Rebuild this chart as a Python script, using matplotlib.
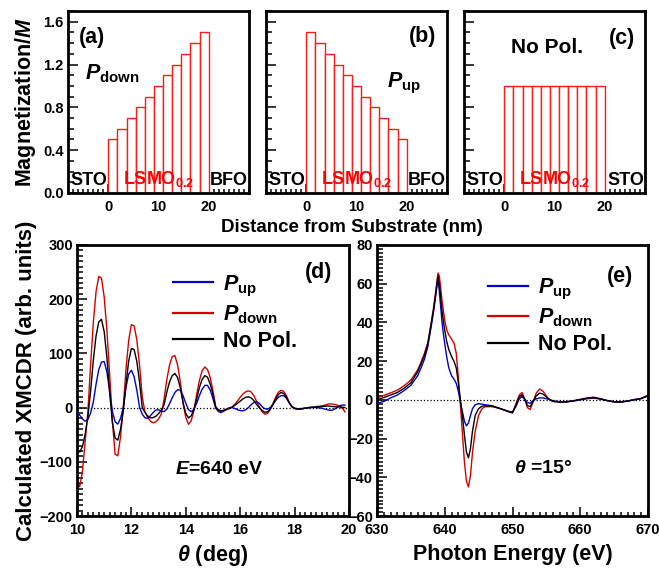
import matplotlib
matplotlib.use('Agg')
import matplotlib.pyplot as plt
from matplotlib.ticker import MultipleLocator
import numpy as np

plt.rcParams['font.family'] = ['Liberation Sans', 'DejaVu Sans']
plt.rcParams['font.weight'] = 'bold'
plt.rcParams['mathtext.fontset'] = 'custom'
plt.rcParams['mathtext.rm'] = 'Liberation Sans:bold'
plt.rcParams['mathtext.it'] = 'Liberation Sans:italic:bold'
plt.rcParams['mathtext.bf'] = 'Liberation Sans:bold'

# ---------------- data: magnetization profiles ----------------
film_thickness = 20.0   # nm
mag_down = [0.5, 0.6, 0.7, 0.8, 0.9, 1.0, 1.1, 1.2, 1.3, 1.4, 1.5]
mag_up = [1.5, 1.4, 1.3, 1.2, 1.1, 1.0, 0.9, 0.8, 0.7, 0.6, 0.5]
mag_nopol = [1.0, 1.0, 1.0, 1.0, 1.0, 1.0, 1.0, 1.0, 1.0, 1.0, 1.0]

# ---------------- data: XMCDR vs theta (E = 640 eV) ----------------
theta = [10.0, 10.1, 10.2, 10.3, 10.4, 10.5, 10.6, 10.7, 10.8, 10.9,
         11.0, 11.1, 11.2, 11.3, 11.4, 11.5, 11.6, 11.7, 11.8, 11.9,
         12.0, 12.1, 12.2, 12.3, 12.4, 12.5, 12.6, 12.7, 12.8, 12.9,
         13.0, 13.1, 13.2, 13.3, 13.4, 13.5, 13.6, 13.7, 13.8, 13.9,
         14.0, 14.1, 14.2, 14.3, 14.4, 14.5, 14.6, 14.7, 14.8, 14.9,
         15.0, 15.1, 15.2, 15.3, 15.4, 15.5, 15.6, 15.7, 15.8, 15.9,
         16.0, 16.1, 16.2, 16.3, 16.4, 16.5, 16.6, 16.7, 16.8, 16.9,
         17.0, 17.1, 17.2, 17.3, 17.4, 17.5, 17.6, 17.7, 17.8, 17.9,
         18.0, 18.1, 18.2, 18.3, 18.4, 18.5, 18.6, 18.7, 18.8, 18.9,
         19.0, 19.1, 19.2, 19.3, 19.4, 19.5, 19.6, 19.7, 19.8, 19.85]
theta_down = [-135, -146, -118, -62, -8, 79, 157, 214, 242, 239,
              204, 142, 62, -24, -86, -89, -54, 0, 70, 124,
              153, 151, 125, 78, 19, -8, -18, -25, -28, -26,
              -21, -12, 15, 51, 78, 94, 96, 78, 47, 8,
              -18, -31, -24, -5, 24, 50, 68, 75, 70, 55,
              31, 2, -5, -7, -6, -4, -2, 1, 6, 12,
              19, 25, 29, 31, 29, 22, 12, 1, -7, -12,
              -11, -4, 7, 19, 28, 32, 30, 22, 10, 1,
              -2, -3, -3, -2, -1, 0, 0.5, 1, 2, 2.5,
              3, 4.5, 6, 7, 6.5, 5.5, 4, 1, -4, -8]
theta_nopol = [-78, -82, -72, -49, -17, 30, 87, 132, 158, 163,
               140, 92, 28, -27, -56, -60, -40, -7, 42, 86,
               109, 107, 85, 47, 0, -9, -15.5, -19, -18.4, -16,
               -11, -5, 5, 28, 47, 59, 63, 55, 36, 9,
               -11, -19, -15, -4, 16, 37, 52, 59, 56, 43,
               24, 0, -4, -6, -5, -3, -1, 1, 4, 8,
               12, 16, 19, 20, 18, 13, 6, 0, -5, -8.5,
               -8, -3, 5, 15, 24, 28, 26, 19, 9, 2,
               -1, -2, -2, -1.5, -1, -0.5, 0, 0.5, 1, 1.5,
               2, 2.5, 3, 2.5, 2, 1.5, 1.5, 1, 0.5, 0]
theta_up = [-9, -14, -21, -25, -22, -10, 10, 43, 70, 84,
            85, 66, 30, -7, -26, -30.5, -20, 0, 37, 62,
            69, 57, 32, 0, -12, -19, -19.5, -15, -9, -4.5,
            -4, -6, -7.5, -3, 7, 18, 28, 33, 32, 22,
            8, -4, -7.5, -3, 8, 22, 34, 41, 41, 32,
            16, -1, -7.5, -9, -6, -2.5, -0.5, 0, -1.5, -4,
            -5.5, -6, -4, 0, 5, 9.5, 11, 8, 2, -2,
            -3, 0, 6, 13, 19, 22, 22, 17, 9, 2,
            -1.5, -3, -3, -2, -1, 0, 0.5, 0.5, 0, -0.5,
            -1, -2.5, -4, -5, -4.5, -2, 1.5, 4, 5, 4.5]

# ---------------- data: XMCDR vs photon energy (theta = 15 deg) ----------------
energy = [630, 631, 632, 633, 634, 635, 636, 636.5, 637, 637.5,
          638, 638.3, 638.6, 638.8, 639.0, 639.2, 639.4, 639.6, 639.8, 640.0,
          640.3, 640.6, 641.0, 641.4, 641.7, 642.0, 642.3, 642.6, 642.9, 643.2,
          643.5, 643.8, 644.1, 644.5, 645, 645.5, 646, 647, 648, 649,
          649.5, 650, 650.5, 651, 651.4, 651.8, 652.2, 652.6, 653, 653.5,
          654, 654.5, 655, 655.5, 656, 657, 658, 659, 660, 661,
          662, 663, 664, 665, 666, 667, 668, 669, 670]
energy_down = [1.0, 2.3, 3.6, 5.0, 7.3, 10.2, 15.5, 19.5, 24, 29.5,
               40, 46.5, 54, 60, 65.5, 64, 58, 51, 46, 41,
               36, 33.5, 31.5, 29, 24, 12, -2, -17, -32, -42,
               -45, -39, -27, -16, -8, -4.5, -3.5, -3.5, -4.3, -5.5,
               -6.2, -6.8, -2, 2.5, 3.8, 0.5, -4, -5, -1.5, 3.5,
               5.6, 4.5, 2, 0, -0.8, -1.2, -1.0, -0.5, 0.3, 1.0,
               1.4, 0.6, -0.4, -1.1, -1.2, -0.6, 0.2, 0.8, 2.4]
energy_nopol = [0.0, 1.2, 2.5, 3.8, 6.0, 8.8, 14.5, 18.5, 23, 29,
                39, 45.5, 53, 58.5, 64, 60, 53, 46, 40.5, 36,
                30, 26, 22.5, 19.5, 16.5, 9, 0, -8, -18, -27,
                -30, -25, -16, -8, -4.5, -3.3, -3, -3.3, -4.3, -5.5,
                -6.2, -6.6, -2.8, 1.5, 2.6, 0.3, -3, -3.5, -1, 2,
                3.5, 3, 1.5, 0, -0.8, -1.1, -1.0, -0.5, 0.2, 0.8,
                1.1, 0.5, -0.4, -1.0, -1.1, -0.6, 0.1, 0.7, 2.2]
energy_up = [-1.8, -0.8, 1.0, 2.5, 4.8, 7.5, 12.5, 16.5, 21, 27.5,
             38, 44.5, 52, 57.5, 62.5, 56, 48, 40, 34, 29,
             22, 16.5, 12.5, 10.5, 8.5, 4.5, -1, -6, -11, -13.4,
             -12, -8, -4.5, -2.5, -2.0, -2.2, -2.6, -3.0, -4.3, -5.5,
             -6.0, -6.3, -3.5, 0.5, 1.7, 0.3, -1.5, -1.7, -0.5, 0.5,
             1.0, 1.0, 0.6, 0.2, -0.5, -1.0, -1.0, -0.6, 0.0, 0.6,
             0.9, 0.4, -0.4, -1.0, -1.1, -0.6, 0.0, 0.6, 2.0]

RED = '#d40000'
BLUE = '#0000cc'
BAR_RED = '#ff1a1a'

W, H = 659, 570
fig = plt.figure(figsize=(W / 100, H / 100), dpi=100)


def box(l, t, r, b):
    return [l / W, 1 - b / H, (r - l) / W, (b - t) / H]


def style(ax, xmaj, xmin, ymaj, ymin):
    for s in ax.spines.values():
        s.set_linewidth(2.0)
    ax.xaxis.set_major_locator(MultipleLocator(xmaj))
    ax.xaxis.set_minor_locator(MultipleLocator(xmin))
    ax.yaxis.set_major_locator(MultipleLocator(ymaj))
    ax.yaxis.set_minor_locator(MultipleLocator(ymin))
    ax.tick_params(axis='both', which='both', direction='in', top=False, right=False,
                   labelsize=10.5, width=1.1)
    ax.tick_params(axis='y', which='major', length=7, pad=3)
    ax.tick_params(axis='y', which='minor', length=4)
    ax.tick_params(axis='x', which='major', length=6.5, pad=5)
    ax.tick_params(axis='x', which='minor', length=3)
    for lab in ax.get_xticklabels() + ax.get_yticklabels():
        lab.set_fontweight('bold')


# ---------------- top panels ----------------
n_layers = len(mag_down)
layer_w = film_thickness / n_layers
layer_left = [i * layer_w for i in range(n_layers)]

top_boxes = [box(68, 11, 249, 193), box(266, 11, 447, 193), box(464, 11, 645, 193)]
profiles = [mag_down, mag_up, mag_nopol]
right_sub = ['BFO', 'BFO', 'STO']
top_axes = []
for k, (bx, prof) in enumerate(zip(top_boxes, profiles)):
    ax = fig.add_axes(bx)
    ax.bar(layer_left, prof, width=layer_w, align='edge', facecolor='white',
           edgecolor=BAR_RED, linewidth=1.0, zorder=2)
    ax.set_xlim(-8, 28)
    ax.set_ylim(0, 1.7)
    style(ax, 10, 1, 0.4, 0.1)
    if k > 0:
        ax.set_yticklabels([])
    else:
        ax.set_yticks([0.0, 0.4, 0.8, 1.2, 1.6])
        ax.set_yticklabels(['0.0', '0.4', '0.8', '1.2', '1.6'])
        ax.set_ylabel(r'Magnetization/$\mathit{M}$', fontsize=15.5, fontweight='bold', labelpad=4)
    ax.text(0.015, 0.07, 'STO', transform=ax.transAxes, fontsize=13, fontweight='bold',
            ha='left', va='center', zorder=5)
    ax.text(0.995, 0.07, right_sub[k], transform=ax.transAxes, fontsize=13, fontweight='bold',
            ha='right', va='center', zorder=5)
    ax.text(0.50, 0.075, r'LSMO$_{\mathrm{0.2}}$', transform=ax.transAxes, fontsize=13,
            fontweight='bold', color='red', ha='center', va='center', zorder=5)
    top_axes.append(ax)

top_axes[0].text(0.06, 0.855, '(a)', transform=top_axes[0].transAxes, fontsize=15.5,
                 fontweight='bold', ha='left', va='center')
top_axes[0].text(0.094, 0.655, r'$\mathit{P}_{\mathrm{down}}$', transform=top_axes[0].transAxes,
                 fontsize=15.5, ha='left', va='center')
top_axes[1].text(0.94, 0.86, '(b)', transform=top_axes[1].transAxes, fontsize=15.5,
                 fontweight='bold', ha='right', va='center')
top_axes[1].text(0.67, 0.60, r'$\mathit{P}_{\mathrm{up}}$', transform=top_axes[1].transAxes,
                 fontsize=15.5, ha='left', va='center')
top_axes[2].text(0.945, 0.85, '(c)', transform=top_axes[2].transAxes, fontsize=15.5,
                 fontweight='bold', ha='right', va='center')
top_axes[2].text(0.456, 0.80, 'No Pol.', transform=top_axes[2].transAxes, fontsize=15,
                 fontweight='bold', ha='center', va='center')
fig.text(352 / W, 1 - 227 / H, 'Distance from Substrate (nm)', fontsize=13.5,
         fontweight='bold', ha='center', va='center')

# ---------------- panel (d) ----------------
axd = fig.add_axes(box(77, 245, 349, 516))
axd.axhline(0, color='black', linestyle=':', linewidth=0.9, zorder=1)
axd.plot(theta, theta_up, color=BLUE, lw=1.0, label=r'$\mathit{P}_{\mathrm{up}}$', zorder=3)
axd.plot(theta, theta_down, color=RED, lw=1.0, label=r'$\mathit{P}_{\mathrm{down}}$', zorder=2)
axd.plot(theta, theta_nopol, color='black', lw=1.0, label='No Pol.', zorder=4)
axd.set_xlim(10, 20)
axd.set_ylim(-200, 300)
style(axd, 2, 0.2, 100, 10)
axd.set_xlabel(r'$\theta$ (deg)', fontsize=15.5, fontweight='bold', labelpad=4)
axd.set_ylabel('Calculated XMCDR (arb. units)', fontsize=16, fontweight='bold', labelpad=2)
axd.text(0.9375, 0.897, '(d)', transform=axd.transAxes, fontsize=15.5, fontweight='bold',
         ha='right', va='center')
axd.text(0.522, 0.17, r'$\mathit{E}$=640 eV', transform=axd.transAxes, fontsize=14,
         fontweight='bold', ha='center', va='center')
hd, ld = axd.get_legend_handles_labels()
legd = axd.legend(hd, ld, loc='upper left', bbox_to_anchor=(0.353, 0.895), frameon=False,
                  fontsize=15.5, handlelength=1.86, handletextpad=0.47, labelspacing=0.22,
                  borderaxespad=0, borderpad=0)
for ln in legd.get_lines():
    ln.set_linewidth(1.6)

# ---------------- panel (e) ----------------
axe = fig.add_axes(box(377, 245, 648, 516))
axe.axhline(0, color='black', linestyle=':', linewidth=0.9, zorder=1)
axe.plot(energy, energy_up, color=BLUE, lw=1.0, label=r'$\mathit{P}_{\mathrm{up}}$', zorder=3)
axe.plot(energy, energy_down, color=RED, lw=1.0, label=r'$\mathit{P}_{\mathrm{down}}$', zorder=2)
axe.plot(energy, energy_nopol, color='black', lw=1.0, label='No Pol.', zorder=4)
axe.set_xlim(630, 670)
axe.set_ylim(-60, 80)
style(axe, 10, 1, 20, 2)
axe.set_xlabel('Photon Energy (eV)', fontsize=15.5, fontweight='bold', labelpad=5)
axe.text(0.945, 0.882, '(e)', transform=axe.transAxes, fontsize=15.5, fontweight='bold',
         ha='right', va='center')
axe.text(0.613, 0.177, r'$\theta$ =15°', transform=axe.transAxes, fontsize=14,
         fontweight='bold', ha='center', va='center')
he, le = axe.get_legend_handles_labels()
lege = axe.legend(he, le, loc='upper left', bbox_to_anchor=(0.41, 0.882), frameon=False,
                  fontsize=15.5, handlelength=1.86, handletextpad=0.47, labelspacing=0.22,
                  borderaxespad=0, borderpad=0)
for ln in lege.get_lines():
    ln.set_linewidth(1.6)

fig.savefig('out.png', dpi=100)
